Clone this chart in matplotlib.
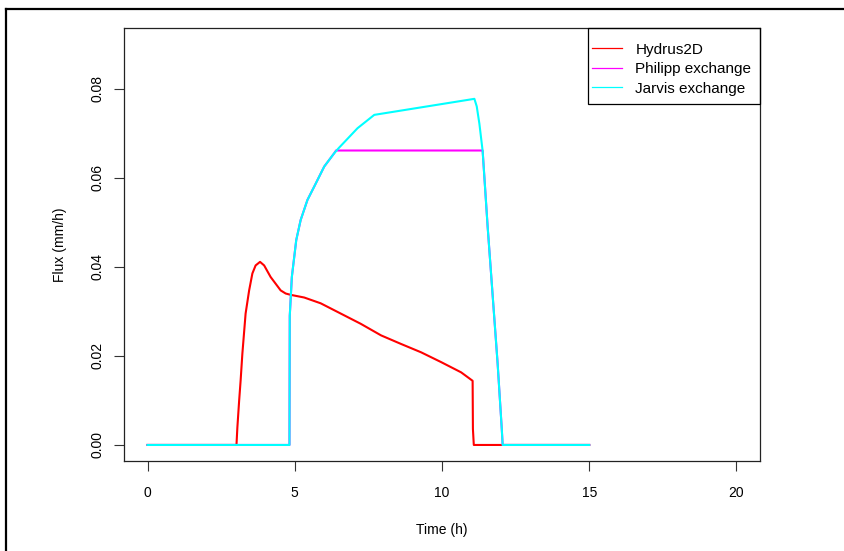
import matplotlib
matplotlib.use("Agg")
import matplotlib.pyplot as plt
from matplotlib.lines import Line2D
from matplotlib.patches import Rectangle

plt.rcParams["font.family"] = ["Liberation Sans", "DejaVu Sans"]

# Hydrus2D simulated flux
hydrus_t = [0, 3.02, 3.05, 3.11, 3.16, 3.22, 3.33, 3.45, 3.56, 3.67, 3.82, 3.96,
            4.18, 4.35, 4.52, 4.69, 4.86, 5.32, 5.88, 6.56, 7.24, 7.93, 8.6,
            9.29, 9.97, 10.65, 11.04, 11.05, 11.08, 15]
hydrus_q = [0, 0, 0.0039, 0.0099, 0.0144, 0.0205, 0.0295, 0.0347, 0.0385, 0.0403,
            0.0411, 0.0403, 0.0377, 0.0362, 0.0347, 0.0340, 0.0337, 0.0331, 0.0318,
            0.0295, 0.0272, 0.0246, 0.0227, 0.0208, 0.0186, 0.0163, 0.0144,
            0.0036, 0, 0]

# Philipp exchange
philipp_t = [0, 4.82, 4.83, 4.9, 5.05, 5.2, 5.43, 5.66, 6.0, 6.34, 6.4, 11.38,
             11.55, 11.72, 11.89, 12.03, 12.06, 15]
philipp_q = [0, 0, 0.029, 0.0377, 0.046, 0.0505, 0.055, 0.058, 0.0625, 0.0655,
             0.0661, 0.0661, 0.049, 0.0336, 0.0182, 0.0036, 0, 0]

# Jarvis exchange
jarvis_t = [0, 4.82, 4.83, 4.9, 5.05, 5.2, 5.43, 5.66, 6.0, 6.34, 6.5, 7.13, 7.7,
            11.1, 11.18, 11.27, 11.38, 11.55, 11.72, 11.89, 12.03, 12.06, 15]
jarvis_q = [0, 0, 0.029, 0.0377, 0.046, 0.0505, 0.055, 0.058, 0.0625, 0.0655,
            0.0667, 0.0711, 0.0741, 0.0777, 0.076, 0.0721, 0.066, 0.049, 0.0336,
            0.0182, 0.0036, 0, 0]

labels = ["Hydrus2D", "Philipp exchange", "Jarvis exchange"]
colors = ["red", "magenta", "cyan"]

W, H = 845, 551
fig = plt.figure(figsize=(W / 100, H / 100), dpi=100)
ax_left, ax_right, ax_top, ax_bot = 124, 760, 28, 461
ax = fig.add_axes([ax_left / W, 1 - ax_bot / H, (ax_right - ax_left) / W, (ax_bot - ax_top) / H])

lw = 1.5
ax.plot(hydrus_t, hydrus_q, color=colors[0], lw=lw)
ax.plot(philipp_t, philipp_q, color=colors[1], lw=lw)
ax.plot(jarvis_t, jarvis_q, color=colors[2], lw=lw)

ax.set_xlim(-0.8, 20.8)
ax.set_ylim(-0.0036, 0.0936)
ax.set_xticks([0, 5, 10, 15, 20])
ax.set_yticks([0, 0.02, 0.04, 0.06, 0.08])
ax.set_yticklabels(["0.00", "0.02", "0.04", "0.06", "0.08"], rotation=90, va="center")
ax.tick_params(axis="both", length=7, width=0.8, labelsize=10, color="#333333")
ax.tick_params(axis="x", pad=11)
ax.tick_params(axis="y", pad=7)
for s in ax.spines.values():
    s.set_linewidth(0.9)
    s.set_color("#222222")

ax.set_xlabel("Time (h)", fontsize=10, labelpad=16.5)
ax.set_ylabel("Flux (mm/h)", fontsize=10, labelpad=17)

# legend: entries without frame, box drawn separately like R's legend()
handles = [Line2D([], [], color=c, lw=0.9) for c in colors]
leg = ax.legend(handles, labels, loc="upper left", fontsize=11, frameon=False,
                bbox_to_anchor=((588 - ax_left) / (ax_right - ax_left), 1 - 11 / (ax_bot - ax_top)),
                borderaxespad=0, borderpad=0.25, labelspacing=0.35,
                handlelength=2.0, handletextpad=0.85)
bx0, bx1, by0, by1 = 588, 760, 28, 104
ax.add_patch(Rectangle(((bx0 - ax_left) / (ax_right - ax_left), 1 - (by1 - ax_top) / (ax_bot - ax_top)),
                       (bx1 - bx0) / (ax_right - ax_left), (by1 - by0) / (ax_bot - ax_top),
                       transform=ax.transAxes, fill=False, edgecolor="black", lw=0.9,
                       clip_on=False, zorder=5))

# outer border of the original figure (clipped at right and bottom)
fig.add_artist(Line2D([6 / W, 1], [1 - 9 / H, 1 - 9 / H], color="black", lw=1.6))
fig.add_artist(Line2D([6 / W, 6 / W], [0, 1 - 9 / H], color="black", lw=1.6))

fig.savefig("out.png", dpi=100)
